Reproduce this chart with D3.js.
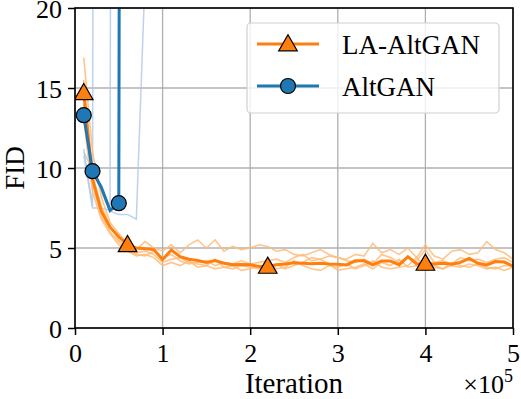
<!DOCTYPE html>
<html>
<head>
<meta charset="utf-8">
<script src="https://cdn.jsdelivr.net/npm/d3@7"></script>
<style>
  body { margin: 0; background: #fff; }
  svg { display: block; }
</style>
</head>
<body>
<svg id="chart" width="521" height="399"></svg>
<script>
// iterations, in units of 1e5
const iterations = [0.1, 0.2, 0.3, 0.4, 0.5, 0.6, 0.7, 0.8, 0.9, 1.0,
  1.1, 1.2, 1.3, 1.4, 1.5, 1.6, 1.7, 1.8, 1.9, 2.0,
  2.1, 2.2, 2.3, 2.4, 2.5, 2.6, 2.7, 2.8, 2.9, 3.0,
  3.1, 3.2, 3.3, 3.4, 3.5, 3.6, 3.7, 3.8, 3.9, 4.0,
  4.1, 4.2, 4.3, 4.4, 4.5, 4.6, 4.7, 4.8, 4.9, 5.0];

// LA-AltGAN mean
const laMean = [14.7, 9.3, 7.3, 6.3, 5.7, 5.2, 5.0, 4.95, 4.9, 4.28,
  4.87, 4.46, 4.3, 4.22, 4.1, 4.22, 4.05, 3.96, 3.97, 3.95,
  3.85, 3.85, 3.95, 4.0, 4.08, 4.05, 4.02, 4.04, 4.0, 3.98,
  3.94, 4.2, 4.2, 3.94, 4.19, 4.19, 3.94, 4.46, 4.0, 4.04,
  4.0, 4.04, 3.98, 4.1, 4.35, 4.05, 3.94, 4.15, 4.12, 3.87];

// LA-AltGAN single runs
const laRuns = [
  [16.9, 11.0, 8.2, 6.6, 5.9, 5.3, 4.9, 5.4, 5.0, 4.8, 5.2, 4.7, 5.2, 5.5, 5.0, 5.5, 4.8, 5.1, 4.9, 5.0,
   5.2, 5.1, 4.8, 4.9, 4.6, 4.5, 4.7, 4.9, 4.6, 4.4, 4.3, 4.6, 4.5, 5.3, 4.7, 4.9, 4.6, 5.0, 4.4, 5.2,
   4.5, 4.3, 4.8, 4.9, 4.6, 4.7, 5.4, 4.9, 4.7, 4.3],
  [15.5, 9.6, 7.6, 6.4, 5.5, 5.0, 4.7, 4.8, 4.6, 4.1, 4.3, 4.4, 4.1, 4.0, 3.9, 4.3, 3.8, 3.7, 3.9, 3.8,
   3.7, 4.0, 3.7, 3.8, 4.2, 3.9, 3.7, 3.6, 3.9, 3.8, 4.0, 3.7, 3.9, 4.2, 3.8, 3.7, 3.8, 3.9, 4.4, 3.8,
   3.9, 3.7, 3.9, 3.8, 4.0, 3.9, 3.7, 3.8, 3.6, 3.8],
  [14.0, 9.0, 7.0, 6.0, 5.4, 4.8, 4.5, 4.6, 4.4, 3.9, 4.1, 3.9, 4.2, 3.8, 3.9, 3.7, 3.8, 3.9, 3.6, 3.7,
   3.9, 3.8, 4.0, 3.7, 3.9, 4.1, 4.4, 4.3, 4.0, 3.6, 3.7, 3.8, 4.0, 3.7, 4.1, 3.9, 4.3, 3.8, 3.9, 3.6,
   3.8, 3.7, 4.1, 3.9, 3.8, 4.0, 3.8, 3.7, 3.9, 3.9],
  [13.0, 8.5, 6.8, 5.9, 5.2, 4.9, 4.6, 4.5, 4.8, 4.4, 4.6, 4.2, 4.0, 4.1, 4.2, 3.9, 4.1, 4.0, 4.2, 4.0,
   4.1, 4.2, 4.3, 4.1, 4.4, 4.6, 4.2, 4.3, 4.5, 4.4, 4.2, 4.1, 4.3, 4.0, 4.6, 4.4, 4.1, 4.4, 4.2, 4.9,
   4.1, 4.2, 4.0, 4.4, 4.2, 4.3, 4.1, 4.3, 4.4, 4.1]
];

// AltGAN mean (diverges after 0.5e5)
const altMean = [13.3, 9.8, 8.8, 7.35, 7.8, 300];

// AltGAN single runs
const altRuns = [
  [11.2, 7.6, 300],
  [10.8, 7.5, 7.5, 7.35, 300],
  [11.0, 9.9, 8.5, 7.3, 7.1, 7.1, 6.8, 22, 300]
];

const laMarkers = [0, 5, 21, 39];
const altMarkers = [0, 1, 4];

const xTicks = [0, 1, 2, 3, 4, 5];
const yTicks = [0, 5, 10, 15, 20];

const FONT = '"Liberation Serif", "Times New Roman", Tinos, "DejaVu Serif", serif';

const svg = d3.select("#chart").attr("font-family", FONT);
const m = { left: 75, right: 513, top: 8, bottom: 328 };

const x = d3.scaleLinear().domain([0, 5]).range([m.left, m.right]);
const y = d3.scaleLinear().domain([0, 20]).range([m.bottom, m.top]);

svg.append("defs").append("clipPath").attr("id", "plot")
  .append("rect")
  .attr("x", m.left).attr("y", m.top)
  .attr("width", m.right - m.left).attr("height", m.bottom - m.top);

// grid
const grid = svg.append("g");
grid.selectAll(".gx").data(xTicks).enter().append("line")
  .attr("x1", d => x(d)).attr("x2", d => x(d))
  .attr("y1", m.top).attr("y2", m.bottom)
  .attr("stroke", "#b0b0b0").attr("stroke-width", 1.3);
grid.selectAll(".gy").data(yTicks).enter().append("line")
  .attr("x1", m.left).attr("x2", m.right)
  .attr("y1", d => y(d)).attr("y2", d => y(d))
  .attr("stroke", "#b0b0b0").attr("stroke-width", 1.3);

const line = d3.line().x((d, i) => x(iterations[i])).y(d => y(d));

const plot = svg.append("g").attr("clip-path", "url(#plot)");

// thin runs
plot.selectAll(".altRun").data(altRuns).enter().append("path")
  .attr("d", line).attr("fill", "none")
  .attr("stroke", "#aec7e8").attr("stroke-width", 1.5).attr("opacity", 0.8);
plot.selectAll(".laRun").data(laRuns).enter().append("path")
  .attr("d", line).attr("fill", "none")
  .attr("stroke", "#ffbb78").attr("stroke-width", 1.6).attr("opacity", 0.85);

// main lines
plot.append("path").datum(laMean).attr("d", line).attr("fill", "none")
  .attr("stroke", "#ff7f0e").attr("stroke-width", 3);
plot.append("path").datum(altMean).attr("d", line).attr("fill", "none")
  .attr("stroke", "#1f77b4").attr("stroke-width", 3);

const tri = d3.symbol().type(d3.symbolTriangle).size(150);

// markers
plot.selectAll(".laMk").data(laMarkers).enter().append("path")
  .attr("d", tri)
  .attr("transform", i => `translate(${x(iterations[i])},${y(laMean[i]) + 1.5})`)
  .attr("fill", "#ff7f0e").attr("stroke", "#000").attr("stroke-width", 1.2);
plot.selectAll(".altMk").data(altMarkers).enter().append("circle")
  .attr("cx", i => x(iterations[i])).attr("cy", i => y(altMean[i]))
  .attr("r", 7.5)
  .attr("fill", "#1f77b4").attr("stroke", "#000").attr("stroke-width", 1.2);

// axes
const xAxis = svg.append("g").attr("transform", `translate(0,${m.bottom})`)
  .call(d3.axisBottom(x).tickValues(xTicks).tickFormat(d3.format("d")).tickSize(7));
const yAxis = svg.append("g").attr("transform", `translate(${m.left},0)`)
  .call(d3.axisLeft(y).tickValues(yTicks).tickSize(7).tickPadding(6));
[xAxis, yAxis].forEach(a => {
  a.attr("font-family", FONT).attr("font-size", 26);
  a.select(".domain").remove();
  a.selectAll("line").attr("stroke", "#000").attr("stroke-width", 1.5);
  a.selectAll("text").style("font-family", FONT)
    .style("font-size", "26px").attr("fill", "#000");
});
xAxis.selectAll("text").attr("y", 34).attr("dy", 0);
yAxis.selectAll("text").attr("dy", "0.38em");

// frame
svg.append("rect")
  .attr("x", m.left).attr("y", m.top)
  .attr("width", m.right - m.left).attr("height", m.bottom - m.top)
  .attr("fill", "none").attr("stroke", "#000").attr("stroke-width", 1.6);

// axis labels
svg.append("text").attr("x", (m.left + m.right) / 2).attr("y", 393)
  .attr("text-anchor", "middle")
  .style("font-family", FONT).style("font-size", "29px").text("Iteration");
const off = svg.append("text").attr("x", m.right).attr("y", 393)
  .attr("text-anchor", "end")
  .style("font-family", FONT).style("font-size", "26px");
off.append("tspan").text("\u00d710");
off.append("tspan").attr("dy", -11).style("font-size", "18px").text("5");

svg.append("text")
  .attr("transform", `translate(24,${(m.top + m.bottom) / 2}) rotate(-90)`)
  .attr("text-anchor", "middle")
  .style("font-family", FONT).style("font-size", "27px").text("FID");

// legend
const lg = svg.append("g");
lg.append("rect").attr("x", 247).attr("y", 23).attr("width", 252).attr("height", 90)
  .attr("rx", 4).attr("fill", "#fff").attr("fill-opacity", 0.8)
  .attr("stroke", "#d0d0d0").attr("stroke-width", 1.2);
const items = [
  { name: "LA-AltGAN", color: "#ff7f0e", mark: "tri" },
  { name: "AltGAN", color: "#1f77b4", mark: "circle" }
];
items.forEach((it, i) => {
  const cy = 44 + i * 42;
  lg.append("line").attr("x1", 257).attr("x2", 319).attr("y1", cy).attr("y2", cy)
    .attr("stroke", it.color).attr("stroke-width", 3);
  if (it.mark === "tri") {
    lg.append("path").attr("d", tri).attr("transform", `translate(288,${cy + 1.5})`)
      .attr("fill", it.color).attr("stroke", "#000").attr("stroke-width", 1.2);
  } else {
    lg.append("circle").attr("cx", 288).attr("cy", cy).attr("r", 7.5)
      .attr("fill", it.color).attr("stroke", "#000").attr("stroke-width", 1.2);
  }
  lg.append("text").attr("x", 342).attr("y", cy + 10)
    .style("font-family", FONT).style("font-size", "27px").text(it.name);
});
</script>
</body>
</html>
